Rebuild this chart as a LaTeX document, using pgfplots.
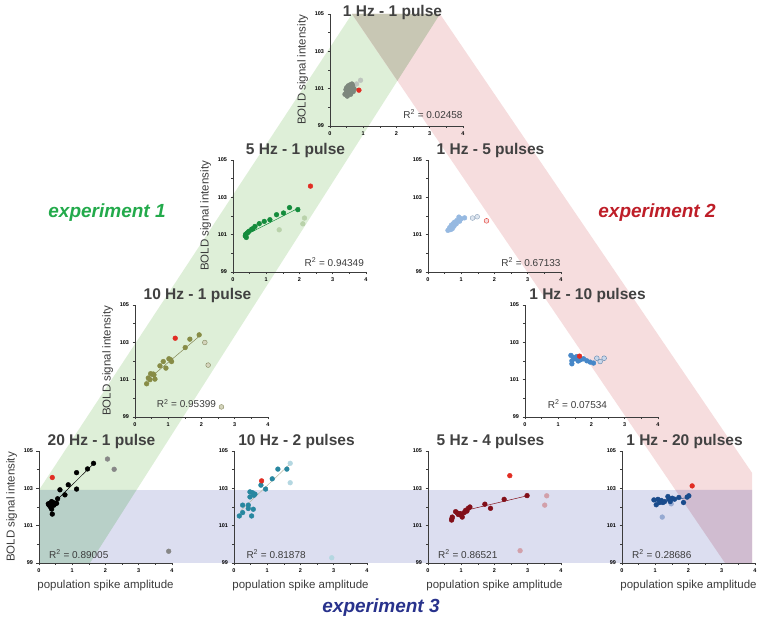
\documentclass[border=0pt]{standalone}
\usepackage{fontspec}
\setmainfont{Liberation Sans}
\setsansfont{Liberation Sans}
\usepackage{pgfplots}
\pgfplotsset{compat=1.18}
\definecolor{bgreen}{RGB}{222,239,216}
\definecolor{bred}{RGB}{246,221,222}
\definecolor{bblue}{RGB}{220,222,240}
\definecolor{bolive}{RGB}{200,199,180}
\definecolor{bteal}{RGB}{184,208,200}
\definecolor{bpurple}{RGB}{208,188,208}
\definecolor{axisgray}{RGB}{60,60,60}
\definecolor{titlegray}{RGB}{65,65,65}
\definecolor{redpt}{RGB}{225,45,35}
\definecolor{cA}{RGB}{125,135,125}\definecolor{cAl}{RGB}{190,196,190}
\definecolor{cB}{RGB}{20,140,60}\definecolor{cBl}{RGB}{185,210,170}
\definecolor{cC}{RGB}{150,185,225}\definecolor{cCl}{RGB}{222,230,240}
\definecolor{cD}{RGB}{135,140,70}\definecolor{cDl}{RGB}{212,212,188}
\definecolor{cE}{RGB}{70,135,200}\definecolor{cEl}{RGB}{200,215,235}
\definecolor{cF}{RGB}{0,0,0}\definecolor{cFl}{RGB}{135,135,135}
\definecolor{cG}{RGB}{40,135,160}\definecolor{cGl}{RGB}{180,215,225}
\definecolor{cH}{RGB}{130,15,25}\definecolor{cHl}{RGB}{210,160,170}
\definecolor{cI}{RGB}{25,75,140}\definecolor{cIl}{RGB}{150,170,210}
\definecolor{exgreen}{RGB}{35,170,75}
\definecolor{exred}{RGB}{190,30,40}
\definecolor{exblue}{RGB}{40,50,140}
\tikzset{rr/.style={font=\fontsize{10}{12}\selectfont, text=axisgray, anchor=base west}}
\pgfplotsset{
  panel/.style={
    scale only axis, width=133pt, height=112pt,
    xmin=0, xmax=4, ymin=99, ymax=105,
    axis lines=left, axis line style={-, draw=axisgray, line width=0.9pt},
    xtick={0,1,2,3,4}, ytick={99,101,103,105},
    minor x tick num=1, minor y tick num=1,
    tick align=outside, major tick length=2.5pt, minor tick length=2pt,
    every tick/.style={axisgray, line width=0.6pt},
    ticklabel style={font=\fontsize{5.5}{6}\selectfont\bfseries, text=black},
    /pgf/number format/assume math mode=true,
    title style={font=\fontsize{15.5}{16}\selectfont\bfseries, text=titlegray, at={(0.47,1)}, anchor=base, yshift=-1pt},
    ylabel style={font=\fontsize{11.5}{12}\selectfont, text=axisgray},
    xlabel style={font=\fontsize{11.5}{12}\selectfont, text=axisgray},
    clip=false,
  },
  pts/.style={only marks, mark=*, mark size=2.4pt, mark options={draw=#1, fill=#1}},
}
\newcommand{\rsq}[1]{R\textsuperscript{2} = #1}
\begin{document}
\begin{tikzpicture}[x=1pt,y=1pt]
\useasboundingbox (0,0) rectangle (760,623);
% bands
\fill[bgreen] (352,609) -- (440,609) -- (90,60) -- (39,60) -- (39,133) -- cycle;
\fill[bred] (352,609) -- (440,609) -- (752,150.2) -- (752,60) -- (725,60) -- cycle;
\fill[bblue] (39,133) rectangle (752,60);
\fill[bolive] (352,609) -- (440,609) -- (397.4,542.2) -- cycle;
\fill[bteal] (39,133) -- (136.5,133) -- (90,60) -- (39,60) -- cycle;
\fill[bpurple] (675.4,133) -- (752,133) -- (752,60) -- (725,60) -- cycle;
% experiment labels
\node[font=\fontsize{19}{20}\selectfont\bfseries\itshape, text=exgreen] at (107,410) {experiment 1};
\node[font=\fontsize{19}{20}\selectfont\bfseries\itshape, text=exred] at (657,410) {experiment 2};
\node[font=\fontsize{19}{20}\selectfont\bfseries\itshape, text=exblue] at (381,15) {experiment 3};

% P1
\begin{axis}[panel, at={(330pt,497pt)}, title={1 Hz - 1 pulse}, title style={yshift=-8pt}, ylabel={BOLD signal intensity}]
\addplot[pts=cAl] coordinates {(0.92,101.45)(0.80,101.25)};
\addplot[pts=cA] coordinates {(0.45,100.7)(0.48,100.95)(0.50,101.05)(0.52,100.6)(0.55,101.15)(0.57,100.8)(0.60,101.2)(0.62,100.95)(0.65,101.05)(0.68,101.15)(0.70,100.85)(0.72,101.0)(0.50,100.8)(0.58,101.0)(0.62,100.7)(0.55,100.9)(0.66,101.25)};
\addplot[pts=redpt] coordinates {(0.87,100.92)};
\addplot[axisgray, line width=0.6pt] coordinates {(0.45,100.85)(0.85,101.0)};
\node[rr] at (axis cs:2.1,99.4) {\rsq{0.02458}};
\end{axis}
% P2
\begin{axis}[panel, at={(233pt,351pt)}, title={5 Hz - 1 pulse}, ylabel={BOLD signal intensity}]
\addplot[pts=cBl] coordinates {(1.39,101.26)(2.10,101.58)(2.15,101.89)};
\addplot[cB, line width=0.5pt] coordinates {(0.4,101.0)(2.0,102.45)};
\addplot[pts=cB] coordinates {(0.37,100.93)(0.38,101.02)(0.40,100.85)(0.42,101.07)(0.45,101.12)(0.48,101.18)(0.56,101.29)(0.60,101.32)(0.66,101.44)(0.79,101.59)(0.94,101.71)(1.11,101.80)(1.31,102.07)(1.52,102.16)(1.70,102.45)(1.95,102.34)};
\addplot[pts=redpt] coordinates {(2.33,103.6)};
\node[rr] at (axis cs:2.05,99.3) {\rsq{0.94349}};
\end{axis}
% P3
\begin{axis}[panel, at={(428pt,351pt)}, title={1 Hz - 5 pulses}]
\addplot[only marks, mark=*, mark size=2.4pt, mark options={draw=cC!60!gray, fill=cCl}] coordinates {(1.34,101.89)(1.48,101.96)};
\addplot[only marks, mark=*, mark size=2.4pt, mark options={draw=redpt, fill=bred}] coordinates {(1.76,101.74)};
\addplot[pts=cC] coordinates {(0.60,101.23)(0.65,101.37)(0.68,101.27)(0.70,101.50)(0.73,101.32)(0.75,101.58)(0.78,101.45)(0.80,101.67)(0.85,101.58)(0.87,101.76)(0.93,101.94)(0.95,101.72)(1.00,101.85)(1.10,101.90)};
\node[rr] at (axis cs:2.1,99.3) {\rsq{0.67133}};
\end{axis}
% P4
\begin{axis}[panel, at={(135pt,206pt)}, title={10 Hz - 1 pulse}, ylabel={BOLD signal intensity}]
\addplot[only marks, mark=*, mark size=2.4pt, mark options={draw=cD!60!gray, fill=cDl}] coordinates {(2.10,102.99)(2.20,101.78)(2.60,99.54)};
\addplot[cD!70!gray, line width=0.5pt] coordinates {(0.35,100.95)(1.95,103.35)};
\addplot[pts=cD] coordinates {(0.35,100.78)(0.40,101.09)(0.45,101.0)(0.47,101.32)(0.57,101.26)(0.60,101.03)(0.55,101.3)(0.75,101.74)(0.85,101.97)(0.93,101.62)(1.02,102.12)(1.10,101.97)(1.07,102.07)(1.51,102.72)(1.65,103.17)(1.93,103.40)};
\addplot[pts=redpt] coordinates {(1.21,103.22)};
\node[rr] at (axis cs:0.55,99.5) {\rsq{0.95399}};
\end{axis}
% P5
\begin{axis}[panel, at={(525pt,206pt)}, title={1 Hz - 10 pulses}]
\addplot[only marks, mark=*, mark size=2.4pt, mark options={draw=cE!60!gray, fill=cEl}] coordinates {(2.16,102.15)(2.26,101.97)(2.38,102.15)};
\addplot[pts=cE] coordinates {(1.38,102.30)(1.41,102.01)(1.41,101.85)(1.45,102.2)(1.51,102.12)(1.56,102.24)(1.60,102.0)(1.66,102.06)(1.76,102.12)(1.86,102.01)(1.96,101.94)(2.06,101.89)(1.70,102.1)};
\addplot[pts=redpt] coordinates {(1.64,102.26)};
\node[rr] at (axis cs:0.58,99.45) {\rsq{0.07534}};
\end{axis}
% P6
\begin{axis}[panel, at={(39pt,60pt)}, title={20 Hz - 1 pulse}, ylabel={BOLD signal intensity}, xlabel={population spike amplitude}]
\addplot[pts=cFl] coordinates {(2.06,104.57)(2.26,104.02)(3.90,99.63)};
\addplot[black, line width=0.5pt] coordinates {(0.33,102.0)(1.6,104.25)};
\addplot[pts=cF] coordinates {(0.28,102.17)(0.33,102.2)(0.38,102.29)(0.35,101.99)(0.38,101.89)(0.40,101.62)(0.43,102.24)(0.48,102.17)(0.53,102.2)(0.56,102.44)(0.63,102.92)(0.78,102.65)(0.88,103.19)(1.13,102.96)(1.13,103.84)(1.46,104.04)(1.64,104.34)(0.30,102.1)(0.45,102.1)};
\addplot[pts=redpt] coordinates {(0.40,103.58)};
\node[rr] at (axis cs:0.2,99.25) {\rsq{0.89005}};
\end{axis}
% P7
\begin{axis}[panel, at={(234pt,60pt)}, title={10 Hz - 2 pulses}, xlabel={population spike amplitude}]
\addplot[pts=cGl] coordinates {(1.69,104.34)(1.69,103.30)(2.94,99.28)};
\addplot[cD!50!gray!60, line width=0.5pt] coordinates {(0.2,101.8)(1.68,104.3)};
\addplot[pts=cG] coordinates {(0.16,101.52)(0.26,101.70)(0.26,102.10)(0.43,102.10)(0.43,101.92)(0.48,102.54)(0.48,102.81)(0.53,101.52)(0.56,102.76)(0.58,101.88)(0.60,102.63)(0.63,102.69)(0.81,103.17)(0.95,102.96)(1.15,103.51)(1.32,104.03)(1.59,104.03)};
\addplot[pts=redpt] coordinates {(0.83,103.40)};
\node[rr] at (axis cs:0.27,99.25) {\rsq{0.81878}};
\end{axis}
% P8
\begin{axis}[panel, at={(428pt,60pt)}, title={5 Hz - 4 pulses}, xlabel={population spike amplitude}]
\addplot[pts=cHl] coordinates {(3.57,102.60)(3.51,102.10)(2.77,99.66)};
\addplot[cH, line width=0.5pt] coordinates {(0.85,101.7)(2.98,102.6)};
\addplot[pts=cH] coordinates {(0.71,101.30)(0.72,101.38)(0.73,101.46)(0.83,101.75)(0.88,101.68)(0.91,101.60)(0.96,101.64)(1.00,101.55)(1.03,101.46)(1.09,101.70)(1.13,101.82)(1.17,101.78)(1.21,101.93)(1.26,102.00)(1.71,102.15)(1.88,101.93)(2.29,102.41)(2.98,102.61)};
\addplot[pts=redpt] coordinates {(2.46,103.68)};
\node[rr] at (axis cs:0.2,99.25) {\rsq{0.86521}};
\end{axis}
% P9
\begin{axis}[panel, at={(622pt,60pt)}, title={1 Hz - 20 pulses}, xlabel={population spike amplitude}]
\addplot[pts=cIl] coordinates {(1.21,101.46)(1.48,102.17)};
\addplot[cI, line width=0.5pt] coordinates {(0.96,102.3)(2.0,102.5)};
\addplot[pts=cI] coordinates {(0.96,102.38)(1.03,102.12)(1.08,102.41)(1.13,102.24)(1.18,102.35)(1.23,102.24)(1.28,102.29)(1.38,102.56)(1.41,102.42)(1.45,102.29)(1.51,102.47)(1.58,102.42)(1.71,102.51)(1.85,102.24)(1.96,102.53)(2.01,102.60)};
\addplot[pts=redpt] coordinates {(2.11,103.13)};
\node[rr] at (axis cs:0.2,99.25) {\rsq{0.28686}};
\end{axis}
\end{tikzpicture}
\end{document}
